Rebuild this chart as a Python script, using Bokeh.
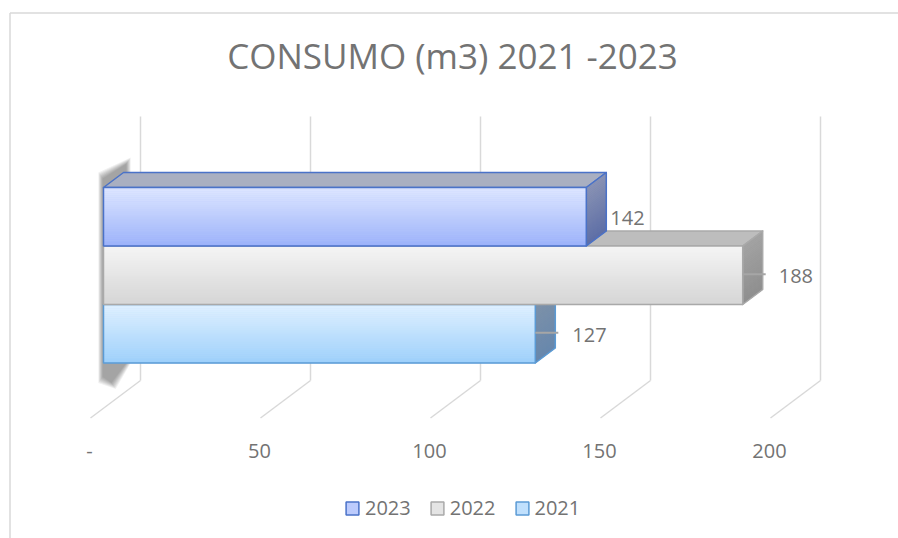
import numpy as np
from bokeh.plotting import figure
from bokeh.models import Range1d, Legend, LegendItem
from bokeh.core.properties import value
from bokeh.embed import file_html
from bokeh.resources import INLINE

# ---------------- data ----------------
chart_title = "CONSUMO (m3) 2021 -2023"
years = ["2023", "2022", "2021"]          # top to bottom
consumo = [142, 188, 127]
ticks = [0, 50, 100, 150, 200]
tick_labels = ["-", "50", "100", "150", "200"]

# ---------------- styles ----------------
front_top = ["#dde6ff", "#f4f4f4", "#dff0ff"]
front_bot = ["#9cb2fa", "#d6d6d6", "#9ed0fb"]
edge_col = ["#4a72c8", "#a9a9a9", "#5b9bd5"]
top_col = ["#a9afc1", "#bdbdbd", "#a4b4c8"]
side_top = ["#8a93b4", "#a3a3a3", "#7e92a8"]
side_bot = ["#5d6ea6", "#8f8f8f", "#6787ad"]
legend_fill = ["#bccbfd", "#e4e4e4", "#c0e0fd"]
label_offset = [24, 36, 37]          # px from bar end
has_leader = [False, True, True]
TEXT = "#737373"
FONT = "Open Sans"

W, H = 898, 538
PX = 3.4            # pixels per m3
X0 = 103            # px of value 0 (front face)
SLOPE = 0.75        # depth projection dy/dx
BAR_TOP = 187       # px of first bar's front top
BAR_H = 58.5
DEPTH = 20          # bar depth (px)
WALL_Z = 37
FLOOR_Z = -13
GRID_TOP = 116
GRID_BOT = 380

def zx(z):
    return z / PX

def zy(z):
    return -SLOPE * z

p = figure(width=W, height=H, output_backend="svg", toolbar_location=None,
           x_range=Range1d(-X0 / PX, (W - X0) / PX), y_range=Range1d(H, 0),
           min_border=0, outline_line_color=None)
p.axis.visible = False
p.grid.visible = False
p.background_fill_color = "white"
p.border_fill_color = "white"

xs0, xs1 = p.x_range.start, p.x_range.end
# chart-area border (left and top edges visible)
p.segment(x0=[xs0 + 9.5 / PX, xs0 + 9.5 / PX], y0=[H, 12.5], x1=[xs0 + 9.5 / PX, xs1], y1=[12.5, 12.5],
          line_color="#d9d9d9", line_width=1.5)

# ---------------- gridlines (wall + floor) ----------------
gx = np.array(ticks, dtype=float)
p.segment(x0=gx + zx(WALL_Z), y0=[GRID_TOP] * len(gx), x1=gx + zx(WALL_Z), y1=[GRID_BOT] * len(gx),
          line_color="#d9d9d9", line_width=1.5)
p.segment(x0=gx + zx(WALL_Z), y0=[GRID_BOT] * len(gx), x1=gx + zx(FLOOR_Z),
          y1=[GRID_BOT + zy(FLOOR_Z) - zy(WALL_Z)] * len(gx),
          line_color="#d9d9d9", line_width=1.5)

# tick labels on the floor's front edge
p.text(x=ticks, y=[450] * len(ticks), text=tick_labels, x_offset=-14,
       text_align="center", text_baseline="middle", text_color=TEXT,
       text_font=value(FONT), text_font_size="20px")

# ---------------- soft shadow behind the left end ----------------
first_top = BAR_TOP
last_bot = BAR_TOP + BAR_H * len(years)
for e in range(6, -1, -1):
    d = 0.7 * e / PX
    p.patch(x=[-1 / PX - d, zx(DEPTH) + 3 / PX + d, zx(DEPTH) + 3 / PX + d, 8 / PX + d, -1 / PX - d],
            y=[first_top - 9 - e, first_top + zy(DEPTH) - 9 - e, last_bot, last_bot + 20 + e, last_bot + 14 + e],
            fill_color="black", fill_alpha=0.06, line_color=None)

# ---------------- 3D bars (bottom bar first) ----------------
N = 30

def hex2rgb(h):
    return np.array([int(h[k:k + 2], 16) for k in (1, 3, 5)], float)

def mix(a, b, t):
    c = a + (b - a) * t
    return "#%02x%02x%02x" % tuple(int(round(u)) for u in c)

order = list(range(len(years)))[::-1]
for i in order:
    v = consumo[i]
    top = BAR_TOP + i * BAR_H
    bot = top + BAR_H
    # top face
    p.patch(x=[0, v, v + zx(DEPTH), zx(DEPTH)], y=[top, top, top + zy(DEPTH), top + zy(DEPTH)],
            fill_color=top_col[i], line_color=edge_col[i], line_width=1.5, line_join="round")
    # side face (vertical gradient over an opaque base)
    c0, c1 = hex2rgb(side_top[i]), hex2rgb(side_bot[i])
    p.patch(x=[v, v + zx(DEPTH), v + zx(DEPTH), v],
            y=[top, top + zy(DEPTH), bot + zy(DEPTH), bot],
            fill_color=mix(c0, c1, 0.5), line_color=None)
    for s in range(N):
        col = mix(c0, c1, s / (N - 1))
        ya = top + (bot - top) * s / N
        yb = top + (bot - top) * (s + 1) / N
        p.patch(x=[v, v + zx(DEPTH), v + zx(DEPTH), v],
                y=[ya, ya + zy(DEPTH), yb + zy(DEPTH) + 0.3, yb + 0.3],
                fill_color=col, line_color=None)
    p.patch(x=[v, v + zx(DEPTH), v + zx(DEPTH), v],
            y=[top, top + zy(DEPTH), bot + zy(DEPTH), bot],
            fill_color=None, line_color=edge_col[i], line_width=1.5, line_join="round")
    # front face (vertical gradient over an opaque base)
    c0, c1 = hex2rgb(front_top[i]), hex2rgb(front_bot[i])
    p.quad(left=[0], right=[v], top=[top], bottom=[bot], fill_color=mix(c0, c1, 0.5), line_color=None)
    tops, bots, cols = [], [], []
    for s in range(N):
        cols.append(mix(c0, c1, s / (N - 1)))
        tops.append(top + (bot - top) * s / N)
        bots.append(top + (bot - top) * (s + 1) / N + 0.3)
    p.quad(left=[0] * N, right=[v] * N, top=tops, bottom=bots, fill_color=cols, line_color=None)
    p.quad(left=[0], right=[v], top=[top], bottom=[bot], fill_color=None,
           line_color=edge_col[i], line_width=1.5)
    # leader line + data label
    mid = (top + bot) / 2
    if has_leader[i]:
        p.segment(x0=[v], y0=[mid - 1], x1=[v + 23 / PX], y1=[mid - 1], line_color="#a6a6a6", line_width=2)
    p.text(x=[v], y=[mid + 1], text=[str(v)], x_offset=label_offset[i],
           text_align="left", text_baseline="middle", text_color=TEXT,
           text_font=value(FONT), text_font_size="20px")

# ---------------- title ----------------
p.text(x=[(452 - X0) / PX], y=[55], text=[chart_title], text_align="center",
       text_baseline="middle", text_color=TEXT, text_font=value(FONT), text_font_size="35px")

# ---------------- legend ----------------
items = []
for i, y in enumerate(years):
    r = p.quad(left=[-1000], right=[-999], top=[-1000], bottom=[-999], fill_color=legend_fill[i],
               line_color=edge_col[i], line_width=1.5)
    items.append(LegendItem(label=y, renderers=[r]))
legend = Legend(items=items, orientation="horizontal", location=(344, 17),
                glyph_width=16, glyph_height=16, label_standoff=5, spacing=18,
                padding=0, margin=0, border_line_color=None, background_fill_alpha=0,
                label_text_font=FONT, label_text_font_size="20px", label_text_color=TEXT)
p.add_layout(legend, "center")

open("out.html", "w").write(file_html(p, INLINE))
